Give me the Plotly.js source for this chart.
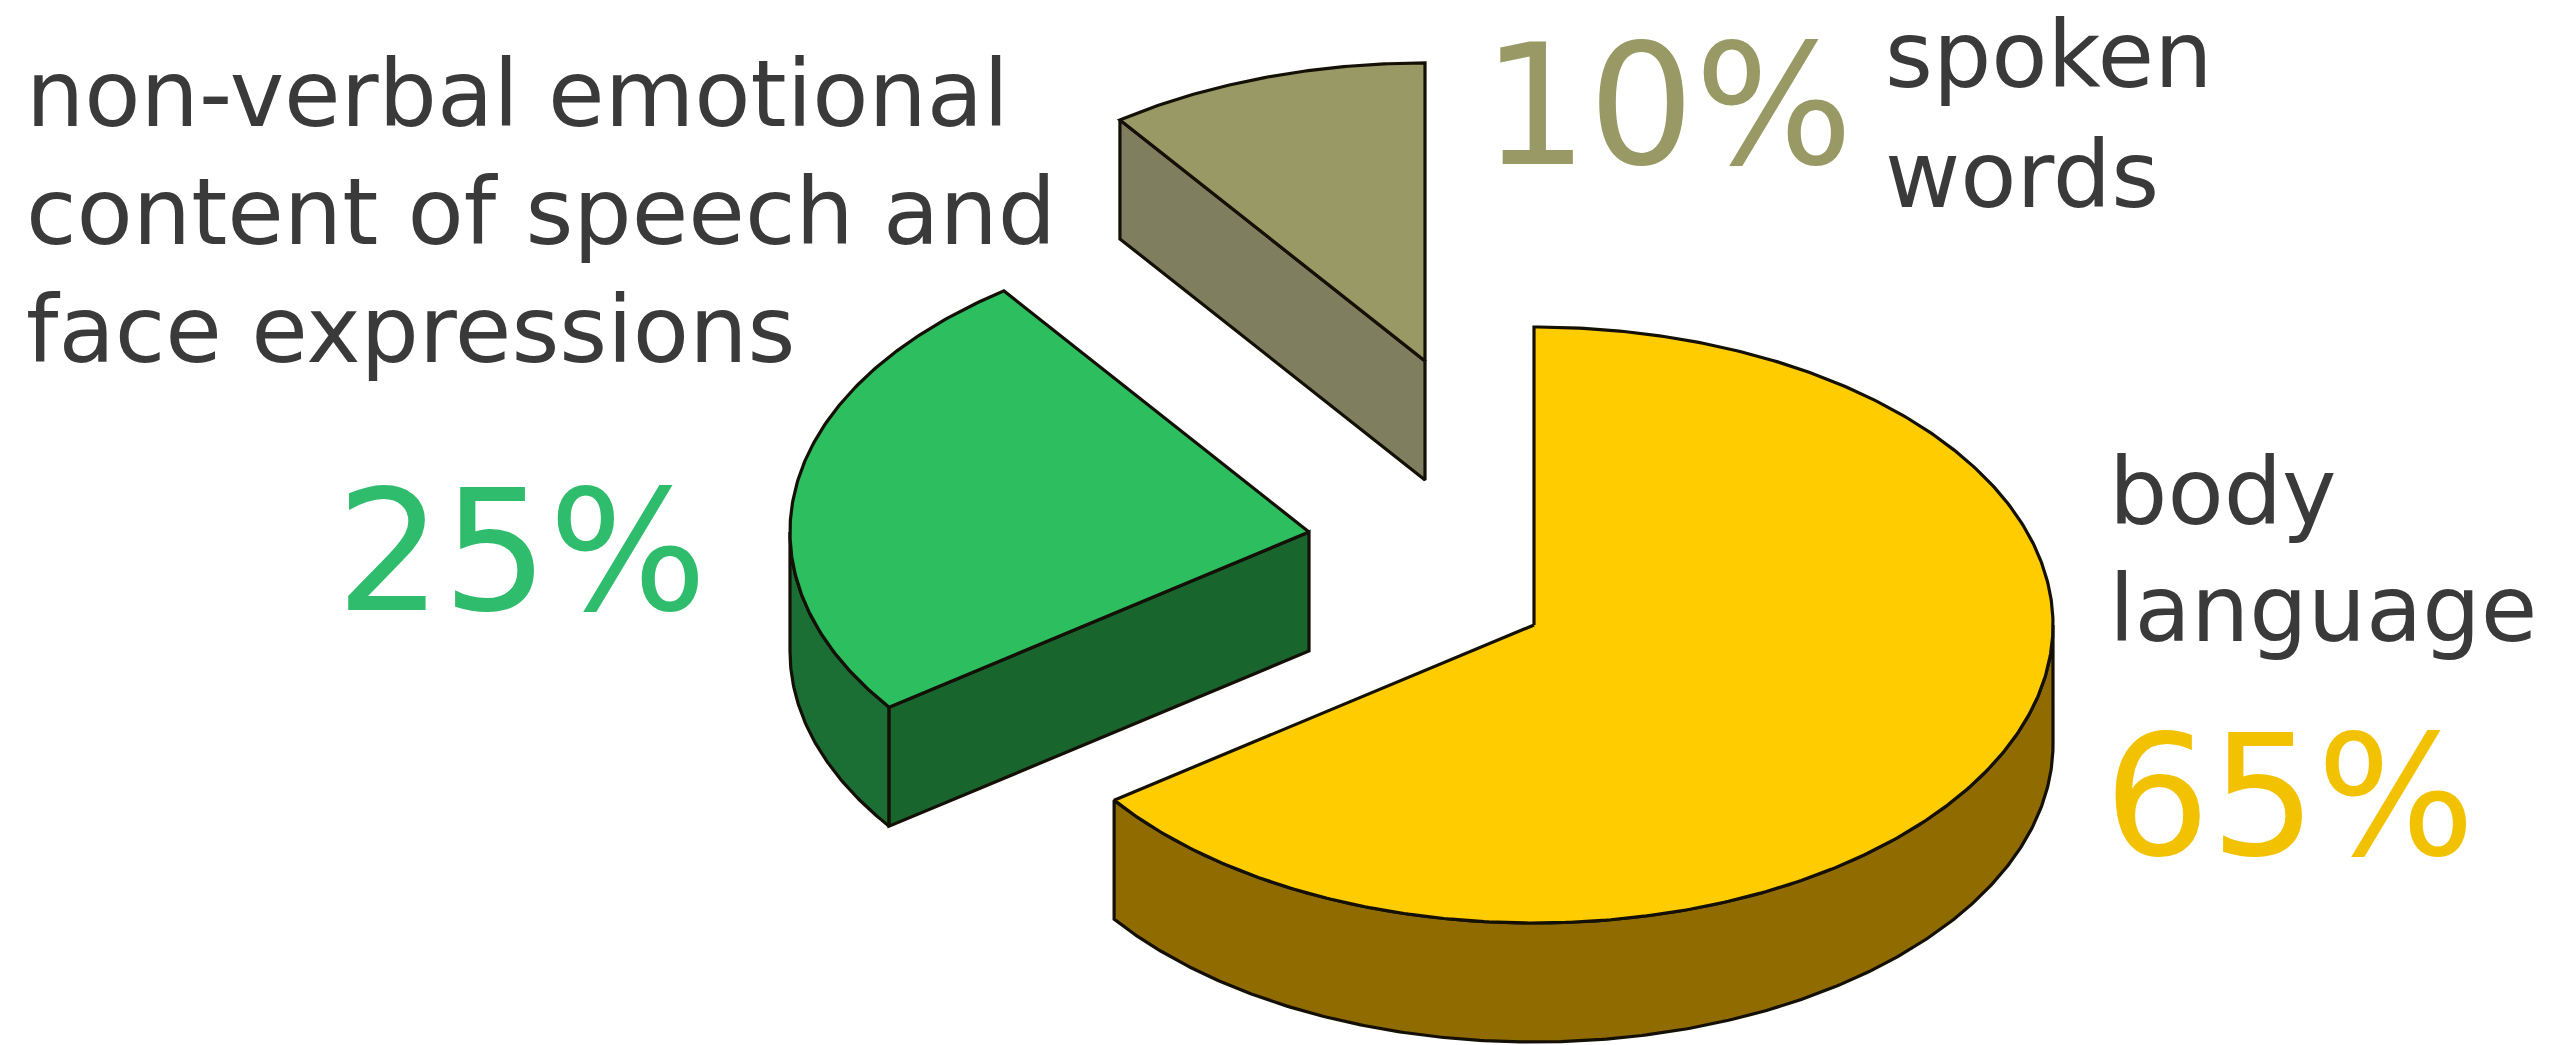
<!DOCTYPE html>
<html>
<head>
<meta charset="utf-8">
<script src="https://cdn.plot.ly/plotly-3.0.1.min.js"></script>
<style>html,body{margin:0;padding:0;background:#fff}#chart{width:2559px;height:1045px}</style>
</head>
<body>
<div id="chart"></div>
<script>
// Shares of communication, clockwise from twelve o'clock
const shares = [65, 25, 10];
const captions = [
  ["body", "language"],
  ["non-verbal emotional", "content of speech and", "face expressions"],
  ["spoken", "words"]
];
const topColors = ["#FFCC00", "#2DBE60", "#999966"];
const sideColors = ["#8F6B00", "#19652E", "#7F7F60"];
const rimColors = ["#8F6B00", "#1B6F35", "#7F7F60"];
const percentColors = ["#F2C200", "#2FBC6C", "#999966"];

// Pie projection, in axis units (one unit = one pixel)
const RX = 519, RY = 298, DEPTH = 119;
const apexes = [[1534, 625], [1309, 532], [1425, 361]];
const captionSize = 92, percentSize = 167;
const captionSpots = [
  [[2107, 492], [2107, 609]],
  [[24, 94], [24, 212], [24, 330]],
  [[1883, 55], [1883, 175]]
];
const percentSpots = [[2102, 797], [334, 552], [1480, 106]];
const OUTLINE = "#141005";

const rimPoint = (apex, deg, drop) => {
  const a = deg * Math.PI / 180;
  return [apex[0] + RX * Math.sin(a), apex[1] - RY * Math.cos(a) + drop];
};

// Points along the rim between two angles, at the given vertical drop
function arc(apex, from, to, drop) {
  const n = Math.max(2, Math.ceil(Math.abs(to - from) * 2));
  const pts = [];
  for (let i = 0; i <= n; i++) pts.push(rimPoint(apex, from + (to - from) * i / n, drop));
  return pts;
}

function polygon(pts, fill) {
  return {
    type: "scatter", mode: "lines", hoverinfo: "skip",
    x: pts.map(p => p[0]).concat(pts[0][0]),
    y: pts.map(p => p[1]).concat(pts[0][1]),
    fill: "toself", fillcolor: fill,
    line: {color: OUTLINE, width: 3.2}
  };
}

const traces = [];
let start = 0;
shares.forEach((share, i) => {
  const end = start + share * 3.6;
  const apex = apexes[i];

  // Outer wall: only the part of the rim facing the viewer (90 to 270 degrees)
  const lo = Math.max(start, 90), hi = Math.min(end, 270);
  if (hi > lo) {
    traces.push(polygon(arc(apex, lo, hi, 0).concat(arc(apex, hi, lo, DEPTH)), rimColors[i]));
  }
  // Cut wall below the slice's leading radial edge; the largest slice hides its own
  if (i > 0) {
    const edge = rimPoint(apex, start, 0);
    traces.push(polygon([edge, apex, [apex[0], apex[1] + DEPTH], [edge[0], edge[1] + DEPTH]], sideColors[i]));
  }
  // Top face
  traces.push(polygon([apex].concat(arc(apex, start, end, 0)), topColors[i]));
  start = end;
});

const annotations = [];
const addText = (text, spot, size, color) => annotations.push({
  text, x: spot[0], y: spot[1], xref: "x", yref: "y",
  xanchor: "left", yanchor: "middle", showarrow: false,
  font: {family: "DejaVu Sans", size, color}
});
captions.forEach((lines, i) => lines.forEach((line, j) => addText(line, captionSpots[i][j], captionSize, "#3A3A3A")));
shares.forEach((share, i) => addText(share + "%", percentSpots[i], percentSize, percentColors[i]));

Plotly.newPlot("chart", traces, {
  width: 2559, height: 1045,
  margin: {l: 0, r: 0, t: 0, b: 0},
  paper_bgcolor: "#FFFFFF", plot_bgcolor: "#FFFFFF",
  showlegend: false,
  xaxis: {range: [0, 2559], visible: false, fixedrange: true},
  yaxis: {range: [1045, 0], visible: false, fixedrange: true},
  annotations
}, {displayModeBar: false, staticPlot: true});
</script>
</body>
</html>
